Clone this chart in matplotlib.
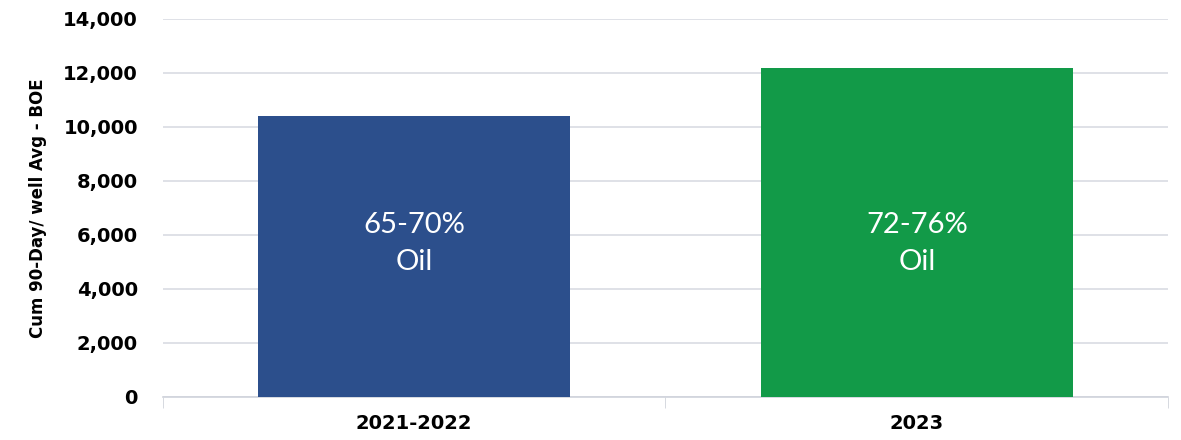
import matplotlib
matplotlib.use("Agg")
import matplotlib.pyplot as plt
import numpy as np

categories = ['2021-2022', '2023']
values = [10400, 12200]
bar_text = ['65-70%\nOil', '72-76%\nOil']
colors = ['#2C4F8C', '#129A48']

fig = plt.figure(figsize=(11.81, 4.4), dpi=100)
ax = fig.add_axes([0.138, 0.098, 0.851, 0.859])

x = np.arange(len(categories))
bars = ax.bar(x, values, width=0.62, color=colors, zorder=3)

for rect, txt in zip(bars, bar_text):
    ax.text(rect.get_x() + rect.get_width() / 2, 5680, txt,
            ha='center', va='center', color='white', fontsize=21,
            family='Lato', fontweight='normal', linespacing=1.55, zorder=4)

ax.set_xlim(-0.5, 1.5)
ax.set_ylim(0, 14000)
ax.set_yticks(np.arange(0, 14001, 2000))
ax.set_yticklabels(['{:,}'.format(v) for v in range(0, 14001, 2000)],
                   fontsize=14, fontweight='bold')
ax.set_xticks(x)
ax.set_xticklabels(categories, fontsize=14, fontweight='bold')
ax.set_xticks([-0.5, 0.5, 1.5], minor=True)
ax.tick_params(axis='x', which='major', length=0, pad=12)
ax.tick_params(axis='x', which='minor', length=8, color='#D0D3DB')
ax.tick_params(axis='y', length=0, pad=18)

ax.set_ylabel('Cum 90-Day/ well Avg - BOE', fontsize=12, fontweight='bold', labelpad=12)

ax.yaxis.grid(True, color='#D9DCE3', linewidth=1.2, zorder=0)
for s in ['top', 'right', 'left']:
    ax.spines[s].set_visible(False)
ax.spines['bottom'].set_color('#D0D3DB')
ax.spines['bottom'].set_linewidth(1.2)

fig.savefig('out.png', dpi=100)
